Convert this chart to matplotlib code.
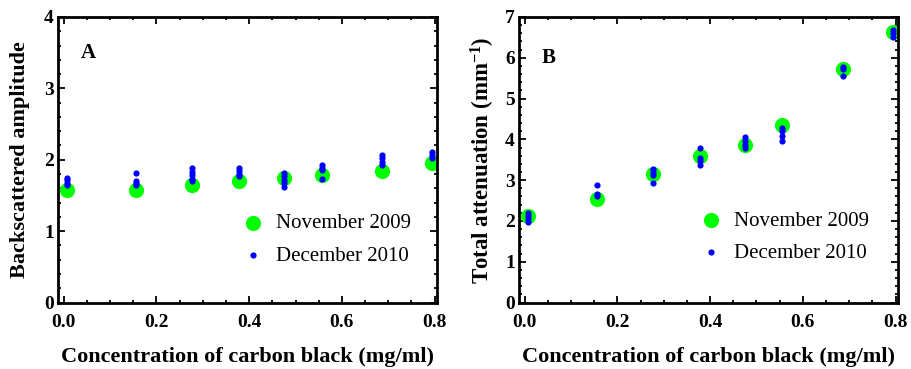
import matplotlib
matplotlib.use("Agg")
import matplotlib.pyplot as plt
from matplotlib.ticker import MultipleLocator

plt.rcParams['font.family'] = ['Liberation Serif', 'DejaVu Serif']
plt.rcParams['mathtext.fontset'] = 'custom'
plt.rcParams['mathtext.rm'] = 'Liberation Serif:bold'
plt.rcParams['mathtext.bf'] = 'Liberation Serif:bold'
plt.rcParams['mathtext.it'] = 'Liberation Serif:bold'

# concentrations (mg/ml)
conc = [0.008, 0.156, 0.276, 0.378, 0.476, 0.556, 0.686, 0.794]

# panel A: backscattered amplitude
nov_amp = [1.58, 1.58, 1.64, 1.70, 1.74, 1.78, 1.84, 1.95]
dec_amp = [
    [1.75, 1.72, 1.68, 1.65],
    [1.82, 1.70, 1.67, 1.64],
    [1.88, 1.83, 1.78, 1.73, 1.70],
    [1.88, 1.84, 1.80, 1.77],
    [1.82, 1.77, 1.72, 1.67, 1.62],
    [1.92, 1.88, 1.85, 1.73],
    [2.06, 2.02, 1.97, 1.93],
    [2.11, 2.07, 2.02],
]

# panel B: total attenuation
nov_att = [2.11, 2.55, 3.16, 3.60, 3.86, 4.35, 5.72, 6.64]
dec_att = [
    [2.20, 2.12, 2.05, 1.98],
    [2.87, 2.67, 2.60],
    [3.28, 3.20, 3.12, 2.93],
    [3.80, 3.55, 3.47, 3.38],
    [4.05, 3.95, 3.85, 3.80],
    [4.28, 4.20, 4.08, 3.95],
    [5.78, 5.72, 5.55],
    [6.68, 6.60, 6.52],
]

fig = plt.figure(figsize=(9.11, 3.69), dpi=100)
ax1 = fig.add_axes([0.0637, 0.180, 0.416, 0.774])
ax2 = fig.add_axes([0.5697, 0.180, 0.416, 0.774])


def draw(ax, nov, dec, ymax, ylabel, ylsize, ylpad, tag, legpos, tagpos):
    ax.scatter(conc, nov, s=120, color=(0, 1, 0), lw=0, zorder=2, label='November 2009')
    xs = []
    ys = []
    for c, vals in zip(conc, dec):
        for v in vals:
            xs.append(c)
            ys.append(v)
    ax.scatter(xs, ys, s=20, color=(0, 0, 1), lw=0, zorder=3, label='December 2010')
    ax.set_xlim(-0.012, 0.805)
    ax.set_ylim(0, ymax)
    ax.xaxis.set_major_locator(MultipleLocator(0.2))
    ax.xaxis.set_minor_locator(MultipleLocator(0.05))
    ax.yaxis.set_major_locator(MultipleLocator(1))
    ax.yaxis.set_minor_locator(MultipleLocator(0.2))
    ax.tick_params(which='both', direction='in', top=True, right=True, width=1.3)
    ax.tick_params(which='major', length=5, labelsize=14, pad=3)
    ax.tick_params(axis='x', which='major', pad=8.5)
    ax.tick_params(which='minor', length=2.5)
    ax.set_xticklabels(['%.1f' % t for t in ax.get_xticks()], fontweight='bold')
    for lab in ax.get_yticklabels():
        lab.set_fontweight('bold')
    for sp in ax.spines.values():
        sp.set_linewidth(2)
    ax.set_xlabel('Concentration of carbon black (mg/ml)', fontsize=16, fontweight='bold', labelpad=11)
    ax.set_ylabel(ylabel, fontsize=ylsize, fontweight='bold', labelpad=ylpad)
    ax.text(tagpos[0], tagpos[1], tag, transform=ax.transAxes, fontsize=15,
            fontweight='bold', ha='left', va='center')
    ax.legend(loc='center left', bbox_to_anchor=legpos, frameon=False, fontsize=15,
              handletextpad=0.6, labelspacing=0.6, handlelength=1.0, borderpad=0)


draw(ax1, nov_amp, dec_amp, 4, 'Backscattered amplitude', 16, 10, 'A',
     (0.459, 0.22), (0.06, 0.874))
draw(ax2, nov_att, dec_att, 7, 'Total attenuation (mm$^{-1}$)', 16.5, 6, 'B',
     (0.452, 0.23), (0.06, 0.857))

fig.savefig('out.png', dpi=100)
